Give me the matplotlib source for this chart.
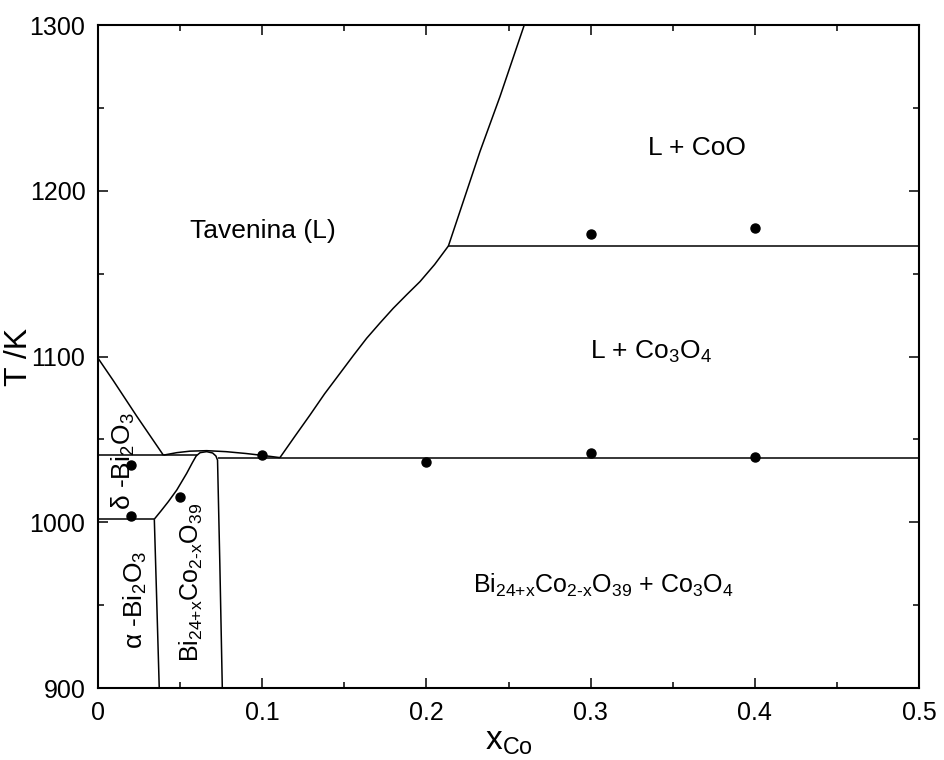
import matplotlib
matplotlib.use("Agg")
import matplotlib.pyplot as plt
from matplotlib.ticker import MultipleLocator

plt.rcParams['font.family'] = ['Liberation Sans', 'DejaVu Sans']
plt.rcParams['mathtext.fontset'] = 'custom'
plt.rcParams['mathtext.rm'] = 'Liberation Sans'
plt.rcParams['mathtext.it'] = 'Liberation Sans'

# ---- phase boundary data (x_Co, T/K) ----
liq_left_x = [0.0, 0.0093, 0.0236, 0.0398]
liq_left_t = [1099, 1085.5, 1064, 1040.5]

eut_left_x = [0.0, 0.0600]
eut_left_t = [1040.4, 1040.4]

dome_x = [0.0398, 0.048, 0.056, 0.0662, 0.078, 0.090, 0.0997, 0.1108]
dome_t = [1040.5, 1042.0, 1042.9, 1043.2, 1042.6, 1041.5, 1040.4, 1039.0]

eut_right_x = [0.0728, 0.5]
eut_right_t = [1038.7, 1038.7]

delta_alpha_x = [0.0, 0.0343]
delta_alpha_t = [1001.9, 1001.9]

alpha_bnd_x = [0.0343, 0.0357, 0.0373]
alpha_bnd_t = [1001.9, 955, 900]

bi24_x = [0.0343, 0.0385, 0.0428, 0.048, 0.054, 0.0575, 0.0598, 0.0622,
          0.0662, 0.0698, 0.0718, 0.0728, 0.0742, 0.0757]
bi24_t = [1001.9, 1007.0, 1012.4, 1019.5, 1029.5, 1036.0, 1040.0, 1042.0,
          1042.6, 1041.8, 1040.0, 1037.5, 975, 900]

liq_right_x = [0.1108, 0.1200, 0.1291, 0.1380, 0.1474, 0.1555, 0.1636, 0.1717,
               0.1798, 0.1880, 0.1961, 0.2050, 0.2134]
liq_right_t = [1039.0, 1052.0, 1064.7, 1077.5, 1089.9, 1100.6, 1111.0, 1120.2,
               1129.1, 1137.3, 1145.2, 1155.5, 1166.7]

liq_coo_x = [0.2134, 0.2326, 0.2448, 0.2596]
liq_coo_t = [1166.7, 1223.6, 1256.8, 1300]

peritectic_x = [0.2134, 0.5]
peritectic_t = [1166.8, 1166.8]

# ---- experimental points ----
exp_x = [0.02, 0.02, 0.05, 0.10, 0.20, 0.30, 0.40, 0.30, 0.40]
exp_t = [1034.5, 1003.8, 1015.4, 1040.6, 1036.5, 1041.6, 1039.6, 1173.7, 1177.7]

fig = plt.figure(figsize=(9.45, 7.6), dpi=100)
ax = fig.add_axes([0.1037, 0.0947, 0.8688, 0.8724])

lw = 1.1
for xs, ts in [(liq_left_x, liq_left_t), (eut_left_x, eut_left_t), (dome_x, dome_t),
               (eut_right_x, eut_right_t), (delta_alpha_x, delta_alpha_t),
               (alpha_bnd_x, alpha_bnd_t), (bi24_x, bi24_t),
               (liq_right_x, liq_right_t), (liq_coo_x, liq_coo_t),
               (peritectic_x, peritectic_t)]:
    ax.plot(xs, ts, color='black', lw=lw, solid_capstyle='butt', solid_joinstyle='round')

ax.plot(exp_x, exp_t, 'o', color='black', ms=6.5, zorder=5)

ax.set_xlim(0, 0.5)
ax.set_ylim(900, 1300)
ax.xaxis.set_major_locator(MultipleLocator(0.1))
ax.xaxis.set_minor_locator(MultipleLocator(0.05))
ax.yaxis.set_major_locator(MultipleLocator(100))
ax.yaxis.set_minor_locator(MultipleLocator(50))
ax.set_xticks([0, 0.1, 0.2, 0.3, 0.4, 0.5])
ax.set_xticklabels(['0', '0.1', '0.2', '0.3', '0.4', '0.5'])
ax.tick_params(which='both', direction='in', top=True, right=True, width=1.1,
               labelsize=18, pad=9)
ax.tick_params(which='major', length=7)
ax.tick_params(which='minor', length=4.5)
for s in ax.spines.values():
    s.set_linewidth(1.5)

ax.set_xlabel(r'x$_\mathregular{Co}$', fontsize=24, labelpad=1)
ax.set_ylabel('T /K', fontsize=23)
ax.yaxis.set_label_coords(-0.078, 0.5)

fs = 19
ax.text(0.1005, 1176, 'Tavenina (L)', fontsize=fs, ha='center', va='center')
ax.text(0.365, 1226, 'L + CoO', fontsize=fs, ha='center', va='center')
ax.text(0.337, 1103, r'L + Co$_\mathregular{3}$O$_\mathregular{4}$', fontsize=fs,
        ha='center', va='center')
ax.text(0.3075, 962,
        r'Bi$_\text{24+x}$Co$_\text{2-x}$O$_\mathregular{39}$ + Co$_\mathregular{3}$O$_\mathregular{4}$',
        fontsize=18, ha='center', va='center')
ax.text(0.0155, 1037, r'$\mathregular{\delta}$ -Bi$_\mathregular{2}$O$_\mathregular{3}$',
        fontsize=fs, ha='center', va='center', rotation=90)
ax.text(0.0225, 953, r'$\mathregular{\alpha}$ -Bi$_\mathregular{2}$O$_\mathregular{3}$',
        fontsize=fs, ha='center', va='center', rotation=90)
ax.text(0.057, 964, r'Bi$_\text{24+x}$Co$_\text{2-x}$O$_\mathregular{39}$',
        fontsize=18, ha='center', va='center', rotation=90)

fig.savefig('out.png', dpi=100)
